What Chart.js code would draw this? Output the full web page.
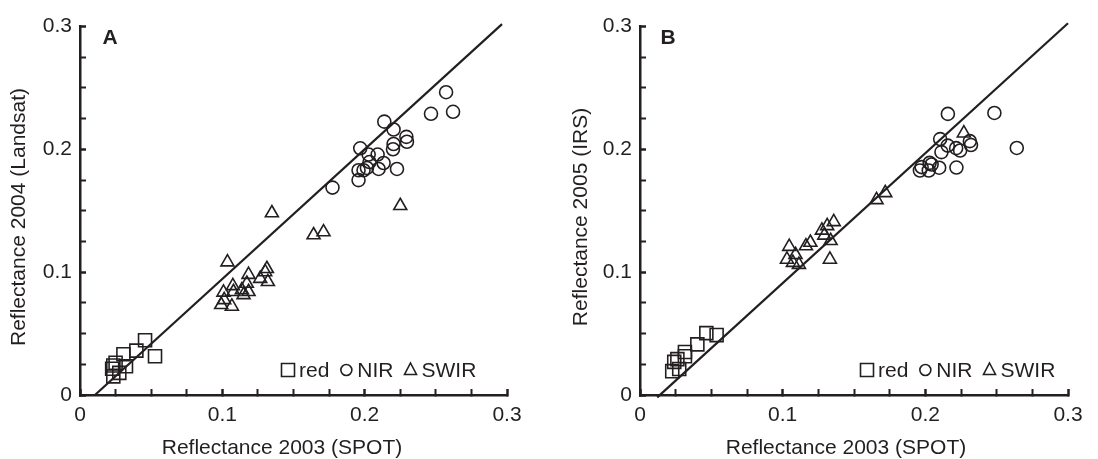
<!DOCTYPE html>
<html>
<head>
<meta charset="utf-8">
<script src="https://cdn.jsdelivr.net/npm/chart.js@4.4.1/dist/chart.umd.min.js"></script>
<style>
  body { margin: 0; background: #fff; }
  .wrap { display: flex; width: 1098px; height: 459px; }
  canvas { display: block; }
</style>
</head>
<body>
<div class="wrap">
  <canvas id="chartA" width="549" height="459"></canvas>
  <canvas id="chartB" width="549" height="459"></canvas>
</div>
<script>
// tick values (every 0.025) and the labelled ones
const tickValues = [0, 0.025, 0.05, 0.075, 0.1, 0.125, 0.15, 0.175, 0.2, 0.225, 0.25, 0.275, 0.3];
const majorTicks = [0, 0.1, 0.2, 0.3];
const tickLabels = ['0', '0.1', '0.2', '0.3'];
const seriesNames = ['red', 'NIR', 'SWIR'];

// panel A : SPOT 2003 vs Landsat 2004
const redA = [[0.0457, 0.0446], [0.0396, 0.0361], [0.0305, 0.0332], [0.0527, 0.0316], [0.0234, 0.0240],
  [0.0250, 0.0262], [0.0323, 0.0234], [0.0276, 0.0180], [0.0234, 0.0152], [0.0226, 0.0214]];
const nirA = [[0.2572, 0.2466], [0.2466, 0.2290], [0.2621, 0.2306], [0.2138, 0.2226], [0.2203, 0.2162],
  [0.2293, 0.2102], [0.2297, 0.2062], [0.2203, 0.2044], [0.2199, 0.2001], [0.1969, 0.2009],
  [0.2028, 0.1958], [0.2091, 0.1958], [0.2034, 0.1897], [0.2133, 0.1889], [0.2016, 0.1849],
  [0.1957, 0.1830], [0.1992, 0.1830], [0.2098, 0.1841], [0.2227, 0.1841], [0.1957, 0.1750],
  [0.1774, 0.1689]];
const swirA = [[0.1348, 0.1482], [0.2250, 0.1541], [0.1641, 0.1303], [0.1711, 0.1327], [0.1036, 0.1082],
  [0.1313, 0.1028], [0.1301, 0.1002], [0.1184, 0.0980], [0.1266, 0.0948], [0.1320, 0.0922],
  [0.1074, 0.0889], [0.1008, 0.0836], [0.1172, 0.0908], [0.1137, 0.0855], [0.1184, 0.0841],
  [0.1149, 0.0815], [0.1078, 0.0841], [0.1013, 0.0775], [0.0992, 0.0735], [0.1067, 0.0721]];
const lineA = [[0.0105, 0], [0.2965, 0.302]];

// panel B : SPOT 2003 vs IRS 2005
const redB = [[0.0465, 0.0504], [0.0537, 0.0488], [0.0402, 0.0412], [0.0315, 0.0350], [0.0315, 0.0315],
  [0.0262, 0.0292], [0.0240, 0.0270], [0.0226, 0.0194], [0.0275, 0.0212]];
const nirB = [[0.2158, 0.2289], [0.2484, 0.2297], [0.2641, 0.2012], [0.2104, 0.2084], [0.2157, 0.2031],
  [0.2216, 0.2010], [0.2244, 0.1991], [0.2312, 0.2067], [0.2320, 0.2036], [0.2113, 0.1978],
  [0.2044, 0.1877], [0.1974, 0.1856], [0.1962, 0.1828], [0.2024, 0.1828], [0.2097, 0.1851],
  [0.2218, 0.1852], [0.2030, 0.1890]];
const swirB = [[0.2270, 0.2132], [0.1719, 0.1646], [0.1658, 0.1589], [0.1358, 0.1410], [0.1312, 0.1377],
  [0.1275, 0.1341], [0.1292, 0.1300], [0.1336, 0.1256], [0.1331, 0.1104], [0.1194, 0.1242],
  [0.1163, 0.1213], [0.1046, 0.1208], [0.1090, 0.1142], [0.1030, 0.1104], [0.1072, 0.1078],
  [0.1114, 0.1062]];
const lineB = [[0.0121, -0.0019], [0.300, 0.3027]];

const xTitle = 'Reflectance 2003 (SPOT)';
const ink = '#231f20';
const fontFamily = '"Liberation Sans", Arial, Helvetica, sans-serif';

function toXY(arr) {
    return arr.map(p => ({x: p[0], y: p[1]}));
}

function tickLabel(v) {
    const i = majorTicks.findIndex(m => Math.abs(m - v) < 1e-9);
    return i >= 0 ? tickLabels[i] : '';
}

function isMajor(v) {
    return majorTicks.some(m => Math.abs(m - v) < 1e-9);
}

// axis titles, panel letter and the inline legend ("□ red ○ NIR △ SWIR")
const panelDecor = {
    id: 'panelDecor',
    afterDraw(chart, args, opts) {
        const ctx = chart.ctx;
        ctx.save();
        ctx.fillStyle = ink;
        ctx.textAlign = 'center';
        ctx.textBaseline = 'middle';

        ctx.font = '21px ' + fontFamily;
        ctx.fillText(xTitle, opts.xTitleX, 448);
        ctx.save();
        ctx.translate(opts.yTitleX, 217);
        ctx.rotate(-Math.PI / 2);
        ctx.fillText(opts.yTitle, 0, 0);
        ctx.restore();

        ctx.font = 'bold 21px ' + fontFamily;
        ctx.fillText(opts.letter, opts.letterX, 38);

        ctx.font = '21px ' + fontFamily;
        ctx.textAlign = 'left';
        ctx.strokeStyle = ink;
        ctx.lineWidth = 1.6;
        const y = 370;
        let x = opts.legendX;
        seriesNames.forEach((name, i) => {
            ctx.beginPath();
            if (i === 0) {
                ctx.rect(x - 6.5, y - 6.5, 13, 13);
            } else if (i === 1) {
                ctx.arc(x, y, 5.5, 0, Math.PI * 2);
            } else {
                ctx.moveTo(x, y - 7);
                ctx.lineTo(x + 6, y + 4.5);
                ctx.lineTo(x - 6, y + 4.5);
                ctx.closePath();
            }
            ctx.stroke();
            const tx = x + 11;
            ctx.fillText(name, tx, y + 1);
            x = tx + ctx.measureText(name).width + 17;
        });
        ctx.restore();
    }
};

function makeChart(id, red, nir, swir, line, yTitle, letter, geom) {
    const marker = {
        showLine: false,
        borderColor: ink,
        backgroundColor: 'rgba(0,0,0,0)',
        borderWidth: 1.6,
        hoverRadius: 0
    };
    const axisGrid = {
        drawOnChartArea: false,
        tickLength: -6,
        tickColor: ink,
        tickWidth: c => isMajor(c.tick.value) ? 2.5 : 2
    };
    return new Chart(document.getElementById(id), {
        type: 'scatter',
        data: {
            datasets: [
                Object.assign({label: 'red', data: toXY(red), pointStyle: 'rect', pointRadius: 9.2}, marker),
                Object.assign({label: 'NIR', data: toXY(nir), pointStyle: 'circle', pointRadius: 6.5}, marker),
                Object.assign({label: 'SWIR', data: toXY(swir), pointStyle: 'triangle', pointRadius: 7.5}, marker),
                {
                    label: 'fit',
                    data: toXY(line),
                    showLine: true,
                    pointRadius: 0,
                    borderColor: ink,
                    borderWidth: 2.2,
                    clip: false
                }
            ]
        },
        options: {
            responsive: false,
            animation: false,
            events: [],
            layout: {
                autoPadding: false,
                padding: {left: 0, right: geom.padRight, top: geom.padTop, bottom: 0}
            },
            plugins: {
                legend: {display: false},
                tooltip: {enabled: false},
                panelDecor: {
                    letter: letter,
                    yTitle: yTitle,
                    letterX: geom.letterX,
                    legendX: geom.legendX,
                    xTitleX: geom.xTitleX,
                    yTitleX: geom.yTitleX
                }
            },
            scales: {
                x: {
                    type: 'linear',
                    min: 0, max: 0.3,
                    afterBuildTicks: s => { s.ticks = tickValues.map(v => ({value: v})); },
                    afterFit: s => { s.height = 64; },
                    ticks: {
                        autoSkip: false, maxRotation: 0, padding: 14,
                        color: ink, font: {family: fontFamily, size: 21},
                        callback: v => tickLabel(v)
                    },
                    grid: axisGrid,
                    border: {color: ink, width: 2.5}
                },
                y: {
                    type: 'linear',
                    min: 0, max: 0.3,
                    afterBuildTicks: s => { s.ticks = tickValues.map(v => ({value: v})); },
                    afterFit: s => { s.width = geom.yWidth; },
                    ticks: {
                        autoSkip: false, padding: 14,
                        color: ink, font: {family: fontFamily, size: 21},
                        callback: v => tickLabel(v)
                    },
                    grid: axisGrid,
                    border: {color: ink, width: 2.5}
                }
            }
        },
        plugins: [panelDecor]
    });
}

makeChart('chartA', redA, nirA, swirA, lineA, 'Reflectance 2004 (Landsat)', 'A',
    {padRight: 42, padTop: 21, yWidth: 80, letterX: 110, legendX: 288, xTitleX: 282, yTitleX: 19});
makeChart('chartB', redB, nirB, swirB, lineB, 'Reflectance 2005 (IRS)', 'B',
    {padRight: 30, padTop: 19, yWidth: 91, letterX: 119, legendX: 318, xTitleX: 297, yTitleX: 32});
</script>
</body>
</html>
